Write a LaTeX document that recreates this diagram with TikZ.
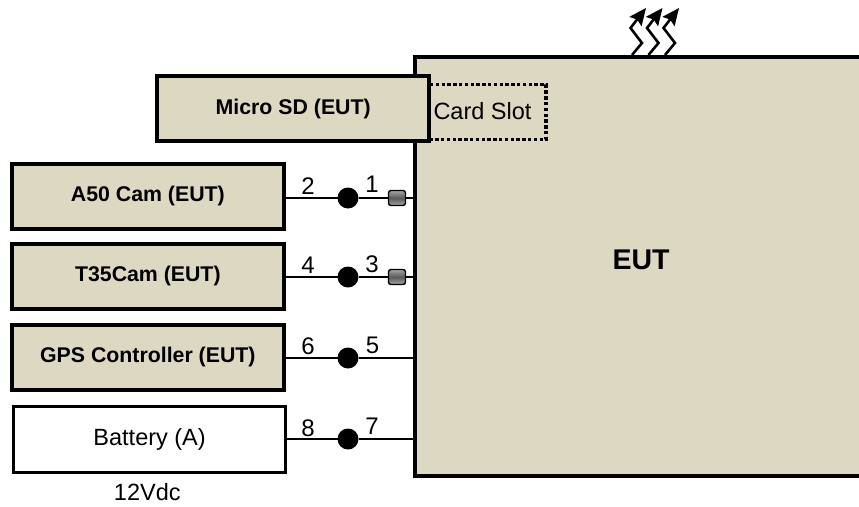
\documentclass[tikz,border=0pt]{standalone}
\usepackage{fontspec}
\setmainfont{Liberation Sans}
\definecolor{eutfill}{RGB}{221,216,193}
\usetikzlibrary{arrows.meta}
\newcommand{\upby}[2]{\raisebox{#1}{#2}}
\tikzset{
  x=1pt,y=-1pt,
  boxe/.style={draw=black,line width=4pt,fill=eutfill,minimum width=271.7pt,minimum height=65pt,inner sep=0pt,outer sep=0pt,font=\fontsize{21.3}{24}\selectfont\bfseries},
  boxw/.style={draw=black,line width=3.2pt,fill=white,minimum width=272.3pt,minimum height=66.3pt,inner sep=0pt,outer sep=0pt,font=\fontsize{23.5}{26}\selectfont},
  wire/.style={draw=black,line width=2.6pt},
  dotn/.style={circle,fill=black,minimum size=21pt,inner sep=0pt,outer sep=0pt},
  ferr/.style={draw=black,line width=1.4pt,rounded corners=2.5pt,minimum width=17pt,minimum height=15pt,inner sep=0pt,outer sep=0pt,top color=black!35,bottom color=black!35,middle color=black!65},
  num/.style={font=\fontsize{24}{26}\selectfont,inner sep=0pt},
  heat/.style={line width=2.6pt,-{Stealth[length=17pt,width=15pt,inset=2.5pt]}},
}
\begin{document}
\begin{tikzpicture}
\useasboundingbox (0,0) rectangle (859,506);
\fill[eutfill] (415,57) rectangle (859,476);
\draw[black,line width=4pt] (859,57) -- (415,57) -- (415,476) -- (859,476);
\node[font=\fontsize{28.5}{32}\selectfont\bfseries] (eut) at (641,260) {EUT};
\coordinate (eA) at (414,198);
\coordinate (eB) at (414,277);
\coordinate (eC) at (414,358);
\coordinate (eD) at (414,439);
% slot
\draw[black,line width=3.4pt,dash pattern=on 3.4pt off 2.4pt] (430,84.5) -- (546,84.5) -- (546,139.5) -- (430,139.5);
\node[font=\fontsize{23.5}{26}\selectfont] (slot) at (482.5,111) {Card Slot};
\node[boxe] (sd) at (293.2,108.8) {\upby{2.5pt}{Micro SD (EUT)}};
\node[boxe] (a50) at (147.85,196.2) {\upby{3pt}{A50 Cam (EUT)}};
\node[boxe] (t35) at (147.85,276.2) {\upby{3pt}{T35Cam (EUT)}};
\node[boxe] (gps) at (147.85,357) {\upby{3.5pt}{GPS Controller (EUT)}};
\node[boxw] (bat) at (149.6,439.3) {\upby{2.5pt}{Battery (A)}};
\node[font=\fontsize{23.5}{26}\selectfont] (v) at (147.3,492.5) {12Vdc};
% wires
\node[dotn] (d1) at (348,198) {};
\node[dotn] (d2) at (348,277) {};
\node[dotn] (d3) at (348,358) {};
\node[dotn] (d4) at (348,439) {};
\draw[wire] (a50.east |- d1) -- (d1) -- (d1 -| eA);
\draw[wire] (t35.east |- d2) -- (d2) -- (d2 -| eB);
\draw[wire] (gps.east |- d3) -- (d3) -- (d3 -| eC);
\draw[wire] (bat.east |- d4) -- (d4) -- (d4 -| eD);
\node[ferr] (f1) at (397,198) {};
\node[ferr] (f2) at (397,277) {};
\foreach \n/\t/\xx/\yy in {n2/2/308/186,n1/1/372/184,n4/4/308/265,n3/3/372/264,n6/6/308/346.5,n5/5/372.5/345,n8/8/308/428,n7/7/372/426}
  \node[num] (\n) at (\xx,\yy) {\t};
% heat arrows
\foreach \dx in {0,16.5,33}
  \draw[heat] (632+\dx,55) -- (642+\dx,43) -- (630.5+\dx,28) -- (646+\dx,8);
\end{tikzpicture}
\end{document}
